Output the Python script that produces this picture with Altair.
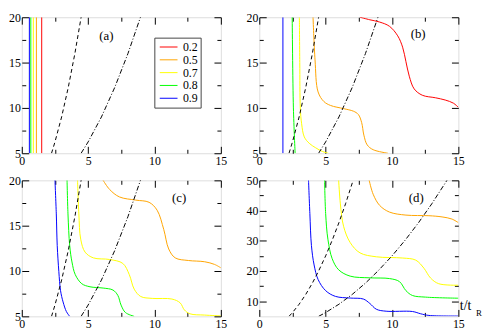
import altair as alt
import pandas as pd

FONT = "Liberation Serif, Times New Roman, Times, serif"
W, H = 202, 138

LABELS = ["0.2", "0.5", "0.7", "0.8", "0.9"]
COLORS = ["#ff0000", "#ffa500", "#ffff00", "#00ff00", "#0000ff"]

x_major = [0, 5, 10, 15]
x_minor = [2.5, 7.5, 12.5]
y_major_abc = [5, 10, 15, 20]
y_minor_abc = [7.5, 12.5, 17.5]
y_major_d = [10, 20, 30, 40, 50]
y_minor_d = [15, 25, 35, 45]

# black reference curves
dash_x = [2.24, 2.5, 3.0, 3.5, 4.0, 4.47, 5.0, 5.5, 6.0, 6.5, 7.07]
dash_y = [5, 6.25, 9, 12.25, 16, 20, 25, 30.25, 36, 42.25, 50]
dashdot_x = [4.47, 5.0, 6.0, 7.0, 8.0, 8.94, 10.0, 11.0, 12.0, 13.0, 14.14]
dashdot_y = [5, 6.25, 9, 12.25, 16, 20, 25, 30.25, 36, 42.25, 50]

# panel (a)
a_red_x, a_red_y = [1.5, 1.5], [5, 20]
a_orange_x, a_orange_y = [1.1, 1.1], [5, 20]
a_yellow_x, a_yellow_y = [0.87, 0.87], [5, 20]
a_green_x, a_green_y = [0.68, 0.68], [5, 20]
a_blue_x, a_blue_y = [0.57, 0.57], [5, 20]

# panel (b)
b_red_x = [7.59, 8.33, 9.07, 9.81, 10.43, 10.8, 11.05, 11.3, 11.67, 12.28, 13.27, 14.01, 14.63, 15.0]
b_red_y = [20, 19.72, 19.47, 19.0, 17.95, 16.7, 15.1, 13.5, 12.1, 11.4, 11.12, 10.87, 10.52, 10.06]
b_orange_x = [4.05, 4.2, 4.43, 4.87, 5.37, 6.35, 7.09, 7.46, 7.71, 7.88, 8.13, 8.58, 9.69]
b_orange_y = [20, 15.3, 11.76, 10.7, 10.27, 9.92, 9.64, 9.28, 8.4, 7.0, 5.92, 5.39, 5.0]
b_yellow_x = [3.02, 3.05, 3.09, 3.19, 3.39, 3.76, 4.25, 4.75, 5.2]
b_yellow_y = [20, 15, 10, 8.25, 6.8, 6.1, 5.6, 5.2, 5.0]
b_green_x, b_green_y = [2.48, 2.57, 2.7], [20, 10, 5]
b_blue_x, b_blue_y = [1.78, 1.78], [5, 20]

# panel (c)
c_orange_x = [6.13, 6.62, 7.36, 8.59, 9.59, 10.2, 10.7, 11.07, 11.56, 12.55, 13.78, 14.52, 15.0]
c_orange_y = [20, 18.99, 18.17, 17.82, 17.58, 16.7, 14.56, 12.43, 11.45, 11.16, 11.02, 10.73, 10.35]
c_yellow_x = [4.2, 4.3, 4.44, 4.77, 5.39, 6.62, 7.61, 8.1, 8.47, 8.96, 9.83, 11.31, 11.93, 12.25, 12.67, 13.78, 15.0]
c_yellow_y = [20, 16.3, 13.5, 12.08, 11.45, 11.27, 10.84, 9.6, 8.0, 7.19, 6.98, 6.91, 6.49, 5.71, 5.28, 5.14, 5.05]
c_green_x = [3.41, 3.48, 3.61, 3.78, 4.03, 4.52, 5.14, 6.13, 6.87, 7.24, 7.48, 7.81, 8.47]
c_green_y = [20, 16.3, 12.8, 11.0, 9.6, 8.6, 8.26, 8.12, 7.9, 7.3, 6.24, 5.42, 5.0]
c_blue_x = [2.5, 2.6, 2.67, 2.79, 2.92, 3.11, 3.36, 3.61]
c_blue_y = [20, 16.3, 12.8, 9.96, 7.83, 6.59, 5.53, 5.0]

# panel (d)
d_orange_x = [8.28, 8.58, 9.07, 9.81, 11.05, 12.78, 13.77, 14.51, 15.0]
d_orange_y = [50, 45.4, 41.7, 39.5, 38.5, 38.3, 37.9, 37.2, 36.0]
d_yellow_x = [5.98, 6.11, 6.35, 6.85, 7.59, 8.82, 10.8, 11.79, 12.41, 12.9, 13.52, 15.0]
d_yellow_y = [50, 42.2, 34.8, 29.4, 26.0, 24.7, 24.3, 23.6, 20.9, 17.7, 15.8, 15.3]
d_green_x = [4.92, 5.0, 5.17, 5.49, 5.98, 6.85, 8.33, 9.81, 10.56, 11.05, 11.54, 12.53, 15.0]
d_green_y = [50, 39, 30.5, 24.1, 20.4, 18.3, 17.74, 17.5, 16.5, 13.5, 11.9, 11.36, 11.0]
d_blue_x = [3.71, 3.81, 3.93, 4.13, 4.43, 5.0, 5.74, 6.85, 7.84, 8.33, 8.82, 9.56, 11.54, 12.16, 12.78, 15.0]
d_blue_y = [50, 39.0, 28.4, 22.0, 17.2, 13.5, 11.6, 11.05, 10.73, 9.26, 7.35, 6.7, 6.6, 5.85, 5.3, 5.1]

panel_tags = ["(a)", "(b)", "(c)", "(d)"]
tag_x = [6.37, 11.97, 11.85, 11.83]
tag_y = [17.9, 18.1, 18.1, 44.3]


def long_df(series):
    rows = []
    for name, xs, ys in series:
        for i, (x, y) in enumerate(zip(xs, ys)):
            rows.append({"s": name, "x": x, "y": y, "i": i})
    return pd.DataFrame(rows)


def axis(orient, values, size, labels):
    kw = dict(
        orient=orient, values=values, tickSize=size, offset=-size,
        domain=False, grid=False, labels=labels, ticks=True,
        tickColor="black", tickWidth=1, title=None,
    )
    if labels:
        kw.update(labelFont=FONT, labelFontSize=12, labelColor="black",
                  labelPadding=2 if orient == "bottom" else 1.5,
                  labelFlush=False, labelOverlap=False, format="d")
    return alt.Axis(**kw)


def panel(series, ydom, ymaj, ymin, k, legend=False, xtitle=False):
    xs = alt.Scale(domain=[0, 15], nice=False, zero=False)
    ys = alt.Scale(domain=ydom, nice=False, zero=False)
    cdf = long_df(series)
    if legend:
        leg = alt.Legend(
            orient="none", legendX=134.5, legendY=20.7, title=None,
            symbolType="M-1.5,0H1.5", symbolSize=144, symbolStrokeWidth=1,
            labelFont=FONT, labelFontSize=12, labelColor="black",
            strokeColor="#444", fillColor="white", padding=3,
            symbolOffset=5, rowPadding=0, labelOffset=8, clipHeight=13,
            labelExpr="datum.label + '\u00a0\u00a0\u00a0'",
        )
    else:
        leg = None
    curves = alt.Chart(cdf).mark_line(
        clip=True, strokeWidth=1, interpolate="catmull-rom"
    ).encode(
        x=alt.X("x:Q", scale=xs, axis=axis("bottom", x_major, 7, True)),
        y=alt.Y("y:Q", scale=ys, axis=axis("left", ymaj, 7, True)),
        color=alt.Color("s:N", scale=alt.Scale(domain=LABELS, range=COLORS), legend=leg),
        detail="s:N",
        order="i:Q",
    )
    ddf = pd.DataFrame({"x": dash_x, "y": dash_y})
    dashed = alt.Chart(ddf).mark_line(
        clip=True, strokeWidth=1, color="black", strokeDash=[4, 3]
    ).encode(x=alt.X("x:Q", scale=xs, axis=None), y=alt.Y("y:Q", scale=ys, axis=None))
    dddf = pd.DataFrame({"x": dashdot_x, "y": dashdot_y})
    dashdot = alt.Chart(dddf).mark_line(
        clip=True, strokeWidth=1, color="black", strokeDash=[5, 2, 1, 2]
    ).encode(x=alt.X("x:Q", scale=xs, axis=None), y=alt.Y("y:Q", scale=ys, axis=None))
    edf = pd.DataFrame({"x": [0, 15], "y": ydom})
    t1 = alt.Chart(edf).mark_point(opacity=0).encode(
        x=alt.X("x:Q", scale=xs, axis=axis("top", x_major, 7, False)),
        y=alt.Y("y:Q", scale=ys, axis=axis("right", ymaj, 7, False)),
    )
    t2 = alt.Chart(edf).mark_point(opacity=0).encode(
        x=alt.X("x:Q", scale=xs, axis=axis("bottom", x_minor, 4, False)),
        y=alt.Y("y:Q", scale=ys, axis=axis("left", ymin, 4, False)),
    )
    t3 = alt.Chart(edf).mark_point(opacity=0).encode(
        x=alt.X("x:Q", scale=xs, axis=axis("top", x_minor, 4, False)),
        y=alt.Y("y:Q", scale=ys, axis=axis("right", ymin, 4, False)),
    )
    tdf = pd.DataFrame({"x": [tag_x[k]], "y": [tag_y[k]], "t": [panel_tags[k]]})
    tag = alt.Chart(tdf).mark_text(font=FONT, fontSize=13, color="black").encode(
        x=alt.X("x:Q", scale=xs, axis=None), y=alt.Y("y:Q", scale=ys, axis=None), text="t:N"
    )
    layers = [curves, dashed, dashdot, t1, t2, t3, tag]
    if xtitle:
        tt = alt.Chart(pd.DataFrame({"t": ["t/t"]})).mark_text(
            font=FONT, fontSize=14, color="black", align="left", baseline="alphabetic"
        ).encode(text="t:N", x=alt.value(W + 1.5), y=alt.value(H - 6.5))
        tr = alt.Chart(pd.DataFrame({"t": ["R"]})).mark_text(
            font=FONT, fontSize=9, color="black", align="left", baseline="alphabetic"
        ).encode(text="t:N", x=alt.value(W + 18), y=alt.value(H))
        layers += [tt, tr]
    return alt.layer(*layers).resolve_axis(x="independent", y="independent").properties(
        width=W, height=H
    )


pa = panel([("0.2", a_red_x, a_red_y), ("0.5", a_orange_x, a_orange_y),
            ("0.7", a_yellow_x, a_yellow_y), ("0.8", a_green_x, a_green_y),
            ("0.9", a_blue_x, a_blue_y)], [5, 20], y_major_abc, y_minor_abc, 0, legend=True)
pb = panel([("0.2", b_red_x, b_red_y), ("0.5", b_orange_x, b_orange_y),
            ("0.7", b_yellow_x, b_yellow_y), ("0.8", b_green_x, b_green_y),
            ("0.9", b_blue_x, b_blue_y)], [5, 20], y_major_abc, y_minor_abc, 1)
pc = panel([("0.5", c_orange_x, c_orange_y), ("0.7", c_yellow_x, c_yellow_y),
            ("0.8", c_green_x, c_green_y), ("0.9", c_blue_x, c_blue_y)],
           [5, 20], y_major_abc, y_minor_abc, 2)
pd_ = panel([("0.5", d_orange_x, d_orange_y), ("0.7", d_yellow_x, d_yellow_y),
             ("0.8", d_green_x, d_green_y), ("0.9", d_blue_x, d_blue_y)],
            [5, 50], y_major_d, y_minor_d, 3, xtitle=True)

chart = alt.concat(
    pa, pb, pc, pd_, columns=2, spacing={"row": 27.5, "column": 39}, bounds="flush"
).resolve_scale(color="independent").resolve_legend(color="independent").properties(
    padding={"left": 0, "top": 0, "right": 0, "bottom": 0}
).configure_view(stroke="black", strokeWidth=1).configure(
    background="white", font=FONT
)

chart.save("out.html", embed_options={"renderer": "svg", "actions": False})
